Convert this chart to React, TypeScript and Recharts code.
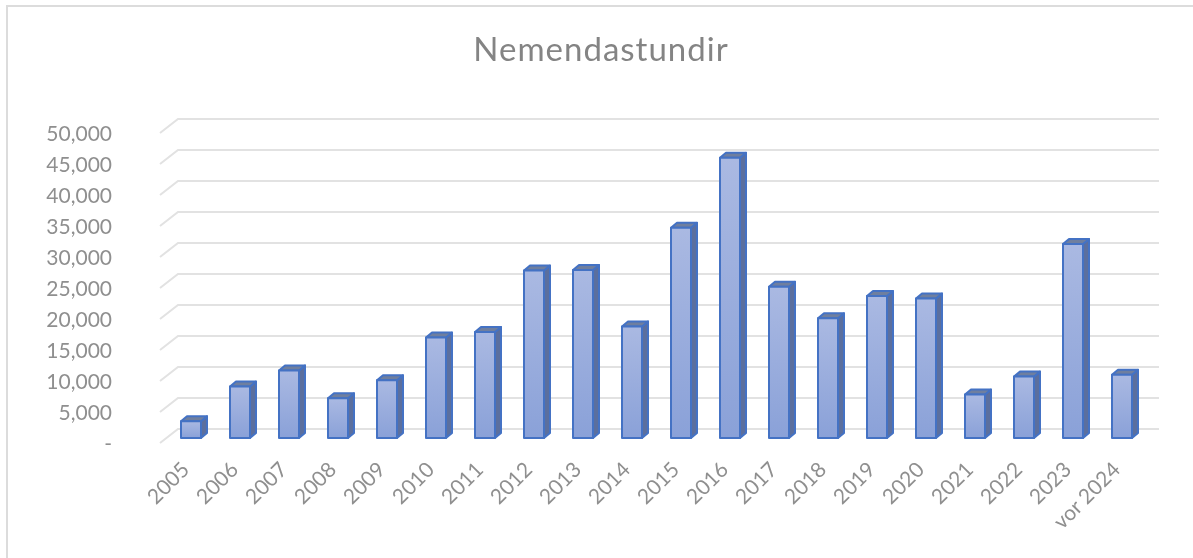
import React from "react";
import { BarChart, Bar, XAxis, YAxis, CartesianGrid } from "recharts";

const categories = ["2005","2006","2007","2008","2009","2010","2011","2012","2013","2014","2015","2016","2017","2018","2019","2020","2021","2022","2023","vor 2024"];
const hours = [2700,8300,10900,6400,9300,16200,17100,27000,27100,18000,33900,45200,24400,19300,22900,22500,7000,9900,31300,10200];
const yTicks = [0,5000,10000,15000,20000,25000,30000,35000,40000,45000,50000];

const data = categories.map((year, i) => ({ year, hours: hours[i] }));

const FONT = "Lato, 'Open Sans', sans-serif";
const DEPTH_X = 6;
const DEPTH_Y = 5;

// excel style 3d column
const Bar3D = ({ x, y, width, height }: any) => {
  const r = x + width;
  const b = y + height;
  return (
    <g stroke="#4472c4" strokeWidth={2} strokeLinejoin="round">
      <path
        d={`M${r},${y} L${r + DEPTH_X},${y - DEPTH_Y} L${r + DEPTH_X},${b - DEPTH_Y} L${r},${b} Z`}
        fill="#5b6f9e"
      />
      <path
        d={`M${x},${y} L${x + DEPTH_X},${y - DEPTH_Y} L${r + DEPTH_X},${y - DEPTH_Y} L${r},${y} Z`}
        fill="#6f7f9f"
      />
      <rect x={x} y={y} width={width} height={height} fill="url(#barFill)" />
    </g>
  );
};

// gridline runs over the side wall first, then along the back wall
const WallLine = ({ y1 }: any) => (
  <path
    d={`M160,${y1 + 5} L178,${y1 - 9} L1159,${y1 - 9}`}
    fill="none"
    stroke="#e2e2e2"
    strokeWidth={2}
  />
);

const YTick = ({ y, payload }: any) => (
  <text x={112} y={y + 13} textAnchor="end" fill="#8f8f8f" fontSize={21} fontFamily={FONT}>
    {payload.value === 0 ? "-" : payload.value.toLocaleString("en-US")}
  </text>
);

const XTick = ({ x, payload }: any) => {
  const tx = x;
  const ty = 471;
  return (
    <text
      x={tx}
      y={ty}
      textAnchor="end"
      fill="#8f8f8f"
      fontSize={21}
      fontFamily={FONT}
      transform={`rotate(-45 ${tx} ${ty})`}
    >
      {payload.value}
    </text>
  );
};

export default function App() {
  return (
    <div
      style={{
        position: "fixed",
        left: 0,
        top: 0,
        width: 1193,
        height: 558,
        background: "#fff",
        overflow: "hidden",
        filter: "blur(0.5px)",
      }}
    >
      <div
        style={{
          position: "absolute",
          left: 6,
          top: 5,
          width: 1300,
          height: 700,
          border: "2px solid #dcdcdc",
          boxSizing: "border-box",
        }}
      />
      <div
        style={{
          position: "absolute",
          left: 0,
          top: 28,
          width: 1202,
          textAlign: "center",
          fontFamily: FONT,
          fontSize: 33,
          color: "#848484",
          letterSpacing: 1,
        }}
      >
        Nemendastundir
      </div>
      <BarChart
        width={1193}
        height={558}
        data={data}
        margin={{ top: 128, right: 47, bottom: 0, left: 111.5 }}
        barSize={20}
        style={{ position: "absolute", left: 0, top: 0 }}
      >
        <defs>
          <linearGradient id="barFill" x1="0" y1="0" x2="0" y2="1">
            <stop offset="0%" stopColor="#aab9e2" />
            <stop offset="100%" stopColor="#8aa1d8" />
          </linearGradient>
        </defs>
        <CartesianGrid vertical={false} horizontal={<WallLine />} syncWithTicks />
        <XAxis dataKey="year" interval={0} axisLine={false} tickLine={false} tick={<XTick />} height={120} />
        <YAxis
          domain={[0, 50000]}
          ticks={yTicks}
          interval={0}
          axisLine={false}
          tickLine={false}
          tick={<YTick />}
          width={54.5}
        />
        <Bar dataKey="hours" shape={<Bar3D />} isAnimationActive={false} />
      </BarChart>
    </div>
  );
}
